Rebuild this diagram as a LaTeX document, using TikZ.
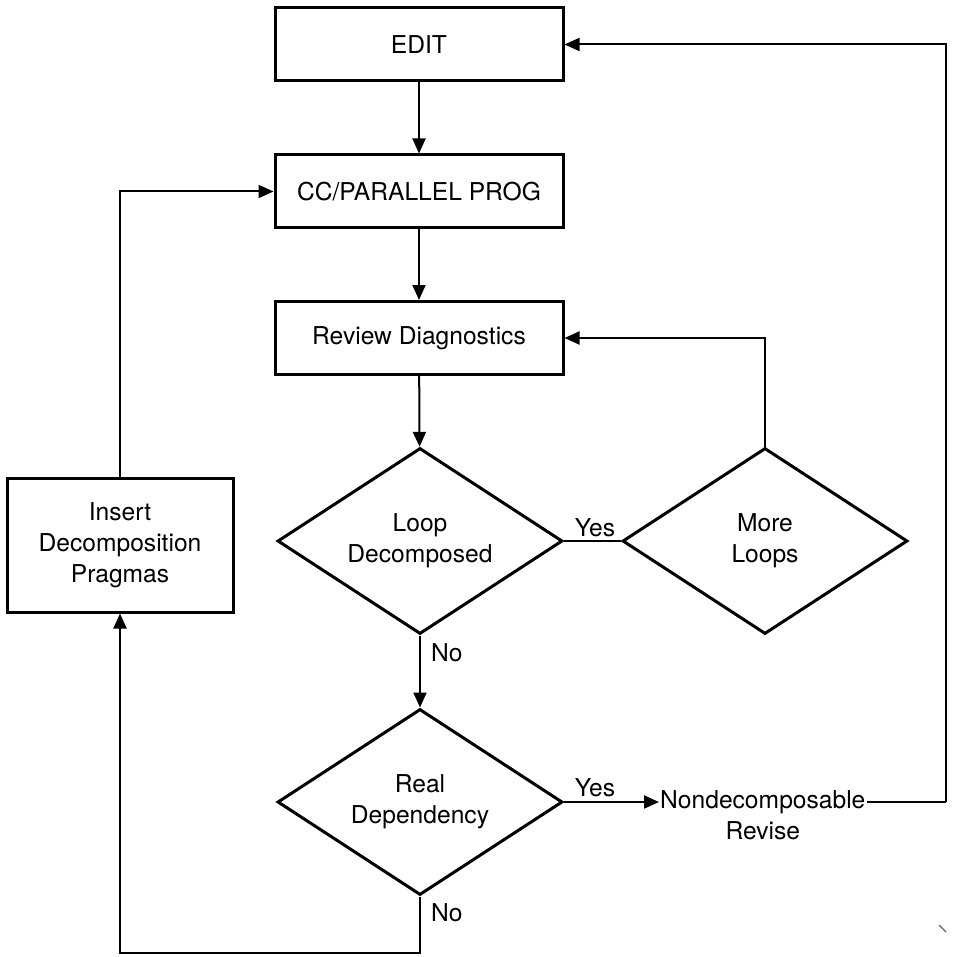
\documentclass[tikz,border=0pt]{standalone}
\usepackage{fontspec}
\setmainfont{TeX Gyre Heros}
\usetikzlibrary{shapes.geometric,arrows.meta}
\newcommand\flowfont{\fontsize{24.6}{31}\selectfont}
\tikzset{
  box/.style={draw, line width=3pt, minimum width=288pt, minimum height=73pt,
    inner sep=0pt, align=center, font=\flowfont},
  dia/.style={draw, diamond, shape aspect=1.53, line width=3pt,
    minimum width=285pt, minimum height=186pt, inner sep=0pt, align=center,
    font=\flowfont},
  conn/.style={line width=2pt, -{Triangle[length=15pt,width=13pt]}},
  wire/.style={line width=2pt},
  lbl/.style={font=\flowfont, inner sep=0pt},
}
\begin{document}
\begin{tikzpicture}[x=1pt, y=-1pt]
  \useasboundingbox (0,0) rectangle (952,957);

  % main column
  \node[box] (edit) at (419,44.5) {EDIT};
  \node[box] (cc)   at (419,191.5) {CC/PARALLEL PROG};
  \node[box] (rev)  at (419,338) {Review Diagnostics};
  \node[dia] (loop) at (420,541) {Loop\\Decomposed};
  \node[dia] (more) at (765,541) {More\\Loops};
  \node[dia] (real) at (420,802) {Real\\Dependency};

  % side boxes and text
  \node[box, minimum width=226pt, minimum height=134pt] (ins) at (120,545)
    {Insert\\Decomposition\\Pragmas};
  \node[lbl, inner sep=1pt, anchor=west] (nd) at (659,802) {Nondecomposable};
  \node[lbl, anchor=base] (rv) at ([yshift=-31pt]nd.base) {Revise};

  % helper points for the return paths
  \coordinate (rt)  at (946,802);
  \coordinate (bot) at (0,953);

  % connectors
  \draw[conn] (edit) -- (cc);
  \draw[conn] (cc) -- (rev);
  \draw[conn] (rev) -- (loop);
  \draw[wire] (loop.east) -- (more.west);
  \draw[conn] (more.north) |- (rev.east);
  \draw[conn] (loop.south) -- (real.north);
  \draw[conn] (real.east) -- (nd.west);
  \draw[wire] (nd.east) -- (rt);
  \draw[conn] (rt) |- (edit.east);
  \draw[conn] (real.south) -- (real.south |- bot) -| (ins.south);
  \draw[conn] (ins.north) |- (cc.west);

  % branch labels
  \node[lbl, anchor=south] (y1) at (595,537) {Yes};
  \node[lbl, anchor=south] (y2) at (595,797) {Yes};
  \node[lbl, anchor=west] (n1) at (431,653) {No};
  \node[lbl, anchor=west] (n2) at (431,913) {No};

  % stray mark near the lower right corner
  \draw[line width=1.2pt, black!60] (939,925) -- (946,932);
\end{tikzpicture}
\end{document}
